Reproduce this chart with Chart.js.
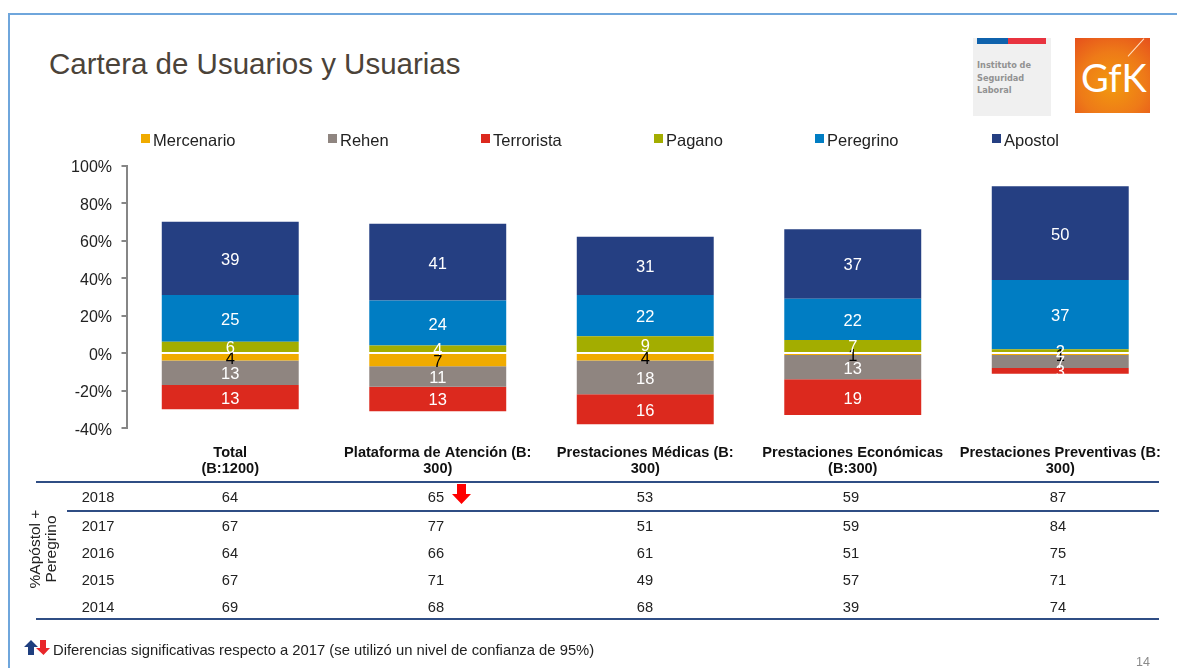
<!DOCTYPE html>
<html lang="es">
<head>
<meta charset="utf-8">
<title>Cartera de Usuarios y Usuarias</title>
<script src="https://cdn.jsdelivr.net/npm/chart.js@4"></script>
<style>
  html, body { margin: 0; padding: 0; background: #fff; }
  body { width: 1177px; height: 668px; position: relative; overflow: hidden; font-family: "Liberation Sans", Arial, sans-serif; color: #222; }
  #energy { position: absolute; left: 0; top: 0; }
  .abs { position: absolute; white-space: nowrap; }
  .cell { position: absolute; transform: translate(-50%, -50%); font-size: 14.7px; white-space: nowrap; }
  .rule { position: absolute; height: 2px; background: #2f4d84; }
  .sw { position: absolute; width: 9px; height: 9px; }
</style>
</head>
<body>
<div class="abs" style="left:8px;top:13px;right:0;height:2px;background:#6fa6dc"></div>
<div class="abs" style="left:8px;top:13px;bottom:0;width:2px;background:#6fa6dc"></div>
<div class="abs" style="left:49px;top:46px;font-size:29.500px;line-height:36px;color:#4b4339">Cartera de Usuarios y Usuarias</div>

<!-- logos -->
<div class="abs" style="left:973px;top:38px;width:78px;height:78px;background:#f0f0f0"></div>
<div class="abs" style="left:977px;top:38px;width:31px;height:6px;background:#0f62ac"></div>
<div class="abs" style="left:1008px;top:38px;width:38px;height:6px;background:#e8333f"></div>
<div class="abs" style="left:977px;top:59px;font:bold 8.200px/12.500px 'DejaVu Sans';color:#929292">Instituto de<br>Seguridad<br>Laboral</div>
<div class="abs" style="left:1075px;top:38px;width:75px;height:75px;background:radial-gradient(circle at 50% 62%,#f29a0e 0%,#ee7a18 55%,#e6501c 100%);overflow:hidden">
  <div class="abs" style="left:6px;top:16px;font:400 38px/46px Lato;color:#fff">GfK</div>
  <div class="abs" style="left:49px;top:9px;width:24px;height:1px;background:#ffe0c4;transform:rotate(-48deg)"></div>
</div>

<canvas id="energy" width="1177" height="668"></canvas>
<div id="legend"></div>
<div id="table"></div>

<div class="abs" style="left:43px;top:549px;transform:translate(-50%,-50%) rotate(-90deg);text-align:center;font-size:15.500px;line-height:16px">%Apóstol +<br>Peregrino</div>

<!-- flecha de la tabla -->
<svg class="abs" style="left:452px;top:484px" width="19" height="20"><path d="M5 0h9v10h5l-9.500 10L0 10h5z" fill="#f00"/></svg>
<!-- flechas de la nota -->
<svg class="abs" style="left:24px;top:640px" width="26" height="15"><path d="M7 0l7 7h-4v8H4V7H0z" fill="#1f3f7f"/><path d="M16 0h6v8h4l-6.500 7L12 8h4z" fill="#e8262a"/></svg>
<div class="abs" style="left:53px;top:642px;font-size:14.800px;line-height:17px">Diferencias significativas respecto a 2017 (se utilizó un nivel de confianza de 95%)</div>
<div class="abs" style="left:1136px;top:655px;font-size:12.500px;line-height:14px;color:#8a8a8a">14</div>

<script>
// Categorias del grafico
const categorias = [
    ['Total', '(B:1200)'],
    ['Plataforma de Atención (B:', '300)'],
    ['Prestaciones Médicas (B:', '300)'],
    ['Prestaciones Económicas', '(B:300)'],
    ['Prestaciones Preventivas (B:', '300)']
];

// Series, los negativos van bajo el cero
const mercenario = [-4, -7, -4, -1, -1];
const rehen = [-13, -11, -18, -13, -7];
const terrorista = [-13, -13, -16, -19, -3];
const pagano = [6, 4, 9, 7, 2];
const peregrino = [25, 24, 22, 22, 37];
const apostol = [39, 41, 31, 37, 50];

const nombres = ['Mercenario', 'Rehen', 'Terrorista', 'Pagano', 'Peregrino', 'Apostol'];
const colores = ['#f0ab00', '#8f8580', '#dc291e', '#a3ad00', '#007dc3', '#253f82'];
const coloresTexto = ['#000', '#fff', '#fff', '#fff', '#fff', '#fff'];
const series = [mercenario, rehen, terrorista, pagano, peregrino, apostol];

// Tabla %Apostol + Peregrino
const anios = ['2018', '2017', '2016', '2015', '2014'];
const tabla2018 = [64, 65, 53, 59, 87];
const tabla2017 = [67, 77, 51, 59, 84];
const tabla2016 = [64, 66, 61, 51, 75];
const tabla2015 = [67, 71, 49, 57, 71];
const tabla2014 = [69, 68, 68, 39, 74];
const filas = [tabla2018, tabla2017, tabla2016, tabla2015, tabla2014];

// Posiciones de la leyenda y la tabla
const legendaX = [141, 328, 481, 654, 815, 992];
const filaY = [497, 526, 553, 580, 607];
const columnaX = [230, 436, 645, 851, 1058];

// Etiquetas de valor dentro de cada segmento y textos del eje y
const etiquetas = {
    id: 'etiquetas',
    afterDatasetsDraw(chart) {
        const c = chart.ctx;
        c.save();
        c.textBaseline = 'middle';
        c.textAlign = 'center';
        c.font = '16.5px "Liberation Sans"';
        chart.data.datasets.forEach((ds, i) => {
            c.fillStyle = coloresTexto[i];
            chart.getDatasetMeta(i).data.forEach((bar, j) => {
                c.fillText(Math.abs(ds.data[j]), bar.x, (bar.y + bar.base) / 2 + 2);
            });
        });
        // en el original los textos del eje quedan un poco bajo la marca
        const y = chart.scales.y;
        c.textAlign = 'right';
        c.font = '16px "Liberation Sans"';
        c.fillStyle = '#222';
        y.ticks.forEach((t, i) => {
            c.fillText(t.label, y.right - 14.5, y.getPixelForTick(i) + 2.5);
        });
        c.restore();
    }
};

new Chart(document.getElementById('energy'), {
    type: 'bar',
    data: {
        labels: categorias,
        datasets: nombres.map((n, i) => ({
            label: n,
            data: series[i],
            backgroundColor: colores[i],
            barPercentage: 0.66,
            categoryPercentage: 1
        }))
    },
    options: {
        responsive: false,
        animation: false,
        layout: { padding: { top: 165.5, left: 60, right: 13, bottom: 190 } },
        plugins: { legend: { display: false }, tooltip: { enabled: false } },
        scales: {
            x: {
                stacked: true,
                afterFit(s) { s.height = 50; },
                grid: { display: false },
                border: { display: false },
                ticks: {
                    autoSkip: false,
                    maxRotation: 0,
                    padding: 9,
                    color: '#111',
                    font: { family: '"Liberation Sans"', size: 14.6, weight: 'bold', lineHeight: 1.1 }
                }
            },
            y: {
                stacked: true,
                min: -40,
                max: 100,
                afterFit(s) { s.width = 66.5; },
                grid: { drawOnChartArea: false, color: '#868686', lineWidth: 2, tickLength: 5 },
                border: { color: '#868686', width: 2 },
                ticks: {
                    display: false,
                    stepSize: 20,
                    callback: v => v + '%'
                }
            }
        }
    },
    plugins: [etiquetas]
});

// Leyenda
document.getElementById('legend').innerHTML = nombres.map((n, i) =>
    `<div class="sw" style="left:${legendaX[i]}px;top:134px;background:${colores[i]}"></div>` +
    `<div class="abs" style="left:${legendaX[i] + 12}px;top:131px;font-size:16.500px;line-height:19px">${n}</div>`
).join('');

// Tabla
let html = '';
anios.forEach((a, i) => {
    html += `<div class="cell" style="left:98px;top:${filaY[i]}px">${a}</div>`;
    filas[i].forEach((v, j) => {
        html += `<div class="cell" style="left:${columnaX[j]}px;top:${filaY[i]}px">${v}</div>`;
    });
});
html += '<div class="rule" style="left:36px;width:1123px;top:481px"></div>';
html += '<div class="rule" style="left:67px;width:1092px;top:510px"></div>';
html += '<div class="rule" style="left:36px;width:1123px;top:618px"></div>';
document.getElementById('table').innerHTML = html;
</script>
</body>
</html>
